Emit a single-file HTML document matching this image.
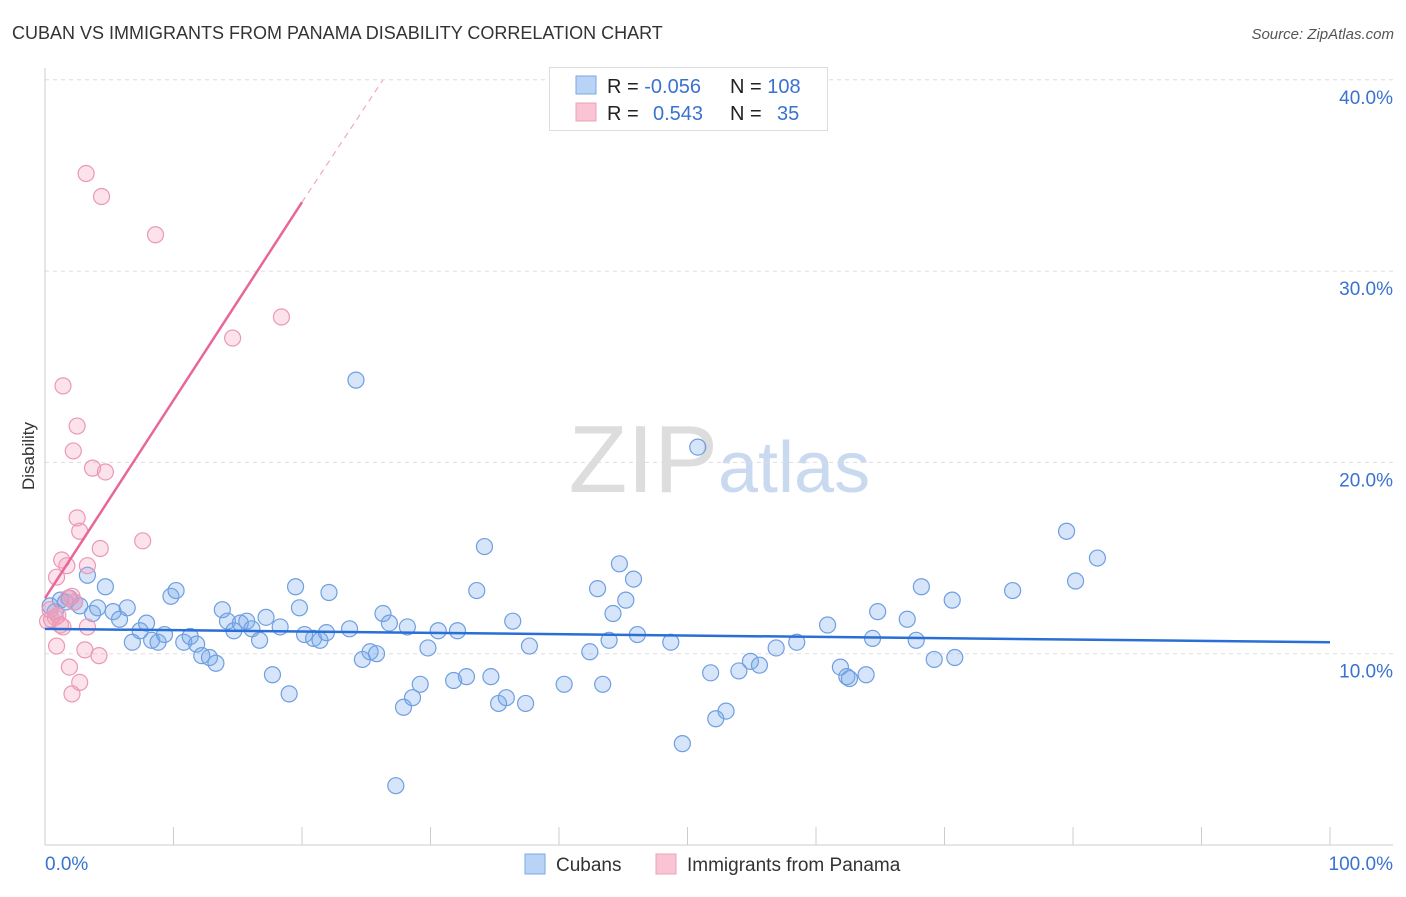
<!DOCTYPE html>
<html><head><meta charset="utf-8"><style>
body{margin:0;background:#fff;font-family:"Liberation Sans",sans-serif;}
svg text{font-family:"Liberation Sans",sans-serif;}
</style></head><body>
<svg id="chart" width="1406" height="892">
<text x="12" y="39" font-size="18" fill="#333">CUBAN VS IMMIGRANTS FROM PANAMA DISABILITY CORRELATION CHART</text>
<text x="1394" y="39" font-size="15" fill="#555" text-anchor="end" font-style="italic">Source: ZipAtlas.com</text>
<text x="34" y="456" font-size="17" fill="#333" text-anchor="middle" transform="rotate(-90 34 456)">Disability</text>
<text x="718" y="492" font-size="96" fill="#ddd" text-anchor="end" font-family="Liberation Serif">ZIP</text>
<text x="718" y="492" font-size="72" fill="#c9daf0">atlas</text>
<g id="grid"></g><g id="axes"></g><g id="marks"></g>
<g>
<rect x="549.5" y="67.5" width="278" height="63" fill="#fff" stroke="#ddd"/>
<rect x="576" y="76" width="20" height="18" fill="#b8d3f5" stroke="#7aaae6"/>
<rect x="576" y="103" width="20" height="18" fill="#f9c4d4" stroke="#eca0bb"/>
<text x="607" y="93" font-size="20" fill="#222">R = <tspan fill="#3a72d0">-0.056</tspan></text>
<text x="730" y="93" font-size="20" fill="#222">N = <tspan fill="#3a72d0">108</tspan></text>
<text x="607" y="120" font-size="20" fill="#222">R = <tspan fill="#3a72d0" x="653">0.543</tspan></text>
<text x="730" y="120" font-size="20" fill="#222">N = <tspan fill="#3a72d0" x="777">35</tspan></text>
</g>
<g>
<rect x="525" y="854" width="20" height="20" fill="#b8d3f5" stroke="#7aaae6"/>
<text x="556" y="871" font-size="19" fill="#333">Cubans</text>
<rect x="656" y="854" width="20" height="20" fill="#f9c4d4" stroke="#eca0bb"/>
<text x="687" y="871" font-size="19" fill="#333">Immigrants from Panama</text>
</g>
</svg>
<script>
const yTicks=[10,20,30,40];
const yTickLabels=["10.0%","20.0%","30.0%","40.0%"];
const xTickLabels=["0.0%","100.0%"];
const cubanX=[0.4,0.8,1.2,1.6,1.9,2.3,2.7,3.3,3.7,4.1,4.7,5.3,5.8,6.4,6.8,7.4,7.9,8.3,8.8,9.3,9.8,10.2,10.8,11.3,11.8,12.2,12.8,13.3,13.8,14.2,14.7,15.2,15.7,16.1,16.7,17.2,17.7,18.3,19.0,19.5,19.8,20.2,20.9,21.4,21.9,22.1,23.7,24.2,24.7,25.3,25.8,26.3,26.8,27.3,27.9,28.2,28.6,29.2,29.8,30.6,31.8,32.1,32.8,33.6,34.2,34.7,35.3,35.9,36.4,37.4,37.7,40.4,42.4,43.0,43.4,43.9,44.2,44.7,45.2,45.8,46.1,48.7,49.6,50.8,51.8,52.2,53.0,54.0,54.9,55.6,56.9,58.5,60.9,61.9,62.4,62.6,63.9,64.4,64.8,67.1,67.8,68.2,69.2,70.6,70.8,75.3,79.5,80.2,81.9];
const cubanY=[12.5,12.2,12.8,12.7,12.9,12.7,12.5,14.1,12.1,12.4,13.5,12.2,11.8,12.4,10.6,11.2,11.6,10.7,10.6,11.0,13.0,13.3,10.6,10.9,10.5,9.9,9.8,9.5,12.3,11.7,11.2,11.6,11.7,11.3,10.7,11.9,8.9,11.4,7.9,13.5,12.4,11.0,10.8,10.7,11.1,13.2,11.3,24.3,9.7,10.1,10.0,12.1,11.6,3.1,7.2,11.4,7.7,8.4,10.3,11.2,8.6,11.2,8.8,13.3,15.6,8.8,7.4,7.7,11.7,7.4,10.4,8.4,10.1,13.4,8.4,10.7,12.1,14.7,12.8,13.9,11.0,10.6,5.3,20.8,9.0,6.6,7.0,9.1,9.6,9.4,10.3,10.6,11.5,9.3,8.8,8.7,8.9,10.8,12.2,11.8,10.7,13.5,9.7,12.8,9.8,13.3,16.4,13.8,15.0];
const panamaX=[0.5,0.2,0.8,1.0,0.4,1.2,1.4,0.9,1.9,2.1,2.7,3.1,3.3,4.2,2.3,2.5,2.7,3.3,4.3,0.9,1.3,1.7,1.4,2.5,2.2,3.7,4.7,7.6,3.2,4.4,8.6,14.6,18.4,1.8,2.1];
const panamaY=[11.8,11.7,11.9,12.0,12.3,11.5,11.4,10.4,9.3,7.9,8.5,10.2,11.4,9.9,12.7,17.1,16.4,14.6,15.5,14.0,14.9,14.6,24.0,21.9,20.6,19.7,19.5,15.9,35.1,33.9,31.9,26.5,27.6,12.9,13.0];
const blueTrend=[[0,11.3],[100,10.6]];
const pinkTrend=[[0,12.9],[20,33.6],[26.3,40]];
const NS="http://www.w3.org/2000/svg";
const X=v=>45+v*12.85, Y=v=>845-v*19.13;
function mk(tag,attrs,parent){const e=document.createElementNS(NS,tag);for(const k in attrs)e.setAttribute(k,attrs[k]);document.getElementById(parent).appendChild(e);return e;}
yTicks.forEach((t,i)=>{
 const g=mk('line',{x1:45,x2:1393,y1:Y(t),y2:Y(t),stroke:'#ddd','stroke-dasharray':'4,4'},'grid');
 
 
 const l=mk('text',{x:1393,y:Y(t)+24,'text-anchor':'end','font-size':19,fill:'#3a72d0'},'axes');l.textContent=yTickLabels[i];
 
 
});
const ax=mk('line',{x1:45,x2:1393,y1:845,y2:845,stroke:'#ccc'},'axes');


const ay=mk('line',{x1:45,x2:45,y1:68,y2:845,stroke:'#ccc'},'axes');


for(let i=1;i<=10;i++){const t=mk('line',{x1:X(i*10),x2:X(i*10),y1:827,y2:845,stroke:'#ccc'},'axes');
 
 }
const xl0=mk('text',{x:45,y:870,'font-size':19,fill:'#3a72d0'},'axes');xl0.textContent=xTickLabels[0];


const xl1=mk('text',{x:1393,y:870,'font-size':19,fill:'#3a72d0','text-anchor':'end'},'axes');xl1.textContent=xTickLabels[1];


cubanX.forEach((v,i)=>{const c=mk('circle',{cx:X(v),cy:Y(cubanY[i]),r:8,fill:'rgba(120,170,235,0.3)',stroke:'#6f9fe0','stroke-width':1.2},'marks');
 
 });
panamaX.forEach((v,i)=>{const c=mk('circle',{cx:X(v),cy:Y(panamaY[i]),r:8,fill:'rgba(245,160,190,0.3)',stroke:'#eb98b6','stroke-width':1.2},'marks');
 
 });
const bt=mk('line',{x1:X(blueTrend[0][0]),y1:Y(blueTrend[0][1]),x2:X(blueTrend[1][0]),y2:Y(blueTrend[1][1]),stroke:'#2a6fd6','stroke-width':2.5},'marks');


const pt=mk('line',{x1:X(pinkTrend[0][0]),y1:Y(pinkTrend[0][1]),x2:X(pinkTrend[1][0]),y2:Y(pinkTrend[1][1]),stroke:'#e8679a','stroke-width':2.5},'marks');


const pd=mk('line',{x1:X(pinkTrend[1][0]),y1:Y(pinkTrend[1][1]),x2:X(pinkTrend[2][0]),y2:Y(pinkTrend[2][1]),stroke:'#f0a8c2','stroke-width':1.2,'stroke-dasharray':'6,5'},'marks');


</script>
</body></html>
